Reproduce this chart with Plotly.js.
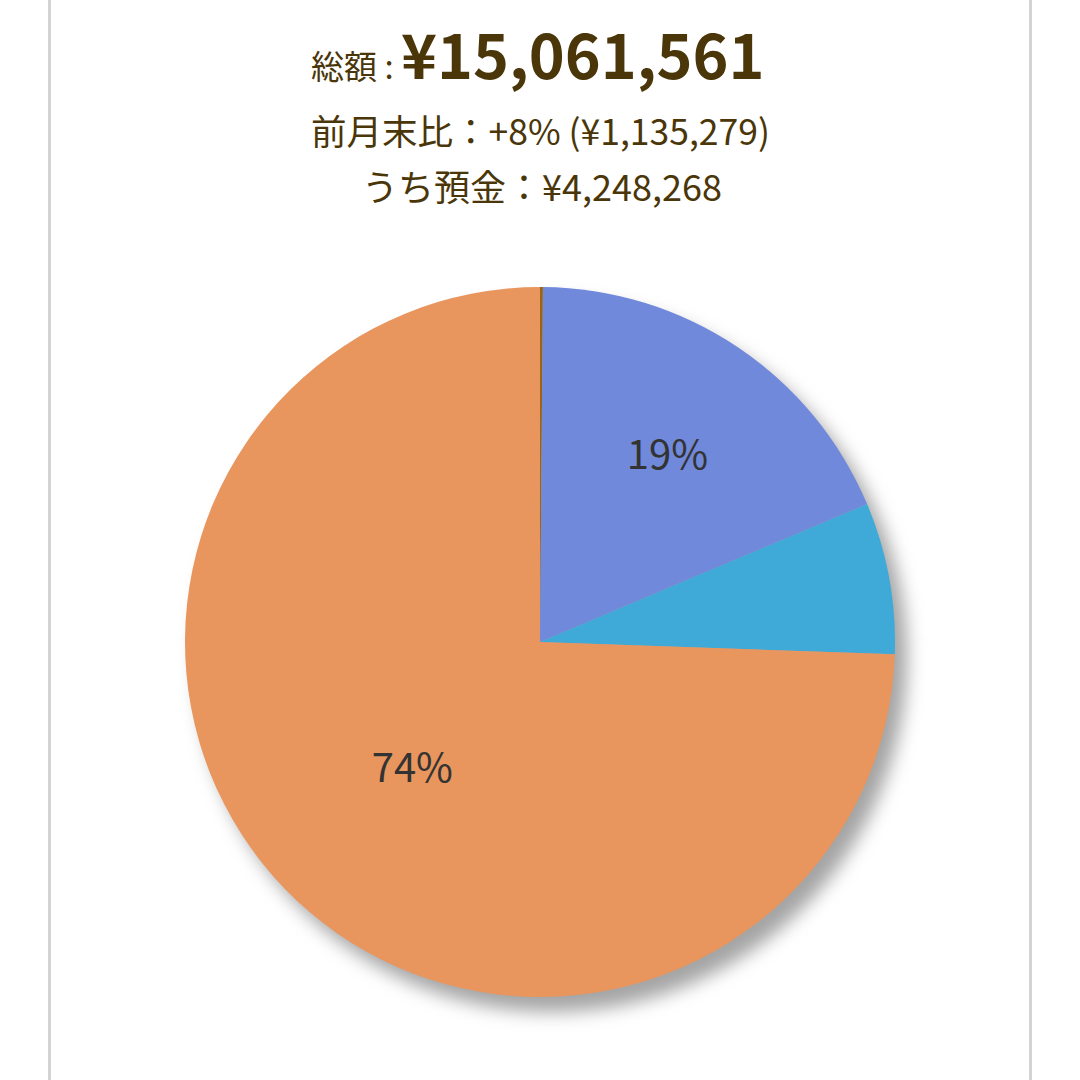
<!DOCTYPE html>
<html>
<head>
<meta charset="utf-8">
<script src="https://cdn.plot.ly/plotly-3.0.1.min.js"></script>
<style>
  html, body { margin: 0; padding: 0; background: #fff; }
  #myDiv { width: 1080px; height: 1080px; }
  .layer-below .shapelayer path { filter: blur(9px); }
</style>
</head>
<body>
<div id="myDiv"></div>
<script>
// asset breakdown (yen)
var labels = ['区分A', '区分B', '区分C', '区分D'];
var values = [20000, 2789000, 1039000, 11213561];
var colors = ['#9a6414', '#7089da', '#3faad8', '#e8955e'];
var shown = ['', '%{percent:.0%}', '', '%{percent:.0%}'];

var total = '¥15,061,561';
var diffLine = '前月末比：+8% (¥1,135,279)';
var depositLine = 'うち預金：¥4,248,268';

var brown = '#4a3608';
var font = '"Noto Sans CJK JP", "Noto Sans", sans-serif';

var W = 1080, H = 1080;
var cx = 540, cy = 642, r = 355;
var dom = {
  x: [(cx - r) / W, (cx + r) / W],
  y: [1 - (cy + r) / H, 1 - (cy - r) / H]
};

var data = [{
  type: 'pie',
  labels: labels,
  values: values,
  sort: false,
  direction: 'clockwise',
  rotation: 0,
  marker: { colors: colors, line: { width: 0 } },
  texttemplate: shown,
  textposition: 'inside',
  insidetextorientation: 'horizontal',
  insidetextfont: { family: font, size: 40, color: '#333333' },
  hoverinfo: 'label+percent',
  domain: dom,
  showlegend: false
}];

var layout = {
  width: W,
  height: H,
  margin: { l: 0, r: 0, t: 0, b: 0 },
  paper_bgcolor: '#ffffff',
  font: { family: font, color: brown },
  showlegend: false,
  shapes: [
    // pie shadow
    { type: 'circle', xref: 'paper', yref: 'paper', layer: 'below',
      x0: (cx - r + 12) / W, x1: (cx + r + 12) / W,
      y0: 1 - (cy + r + 15) / H, y1: 1 - (cy - r + 15) / H,
      fillcolor: 'rgba(125,125,125,0.7)', line: { width: 0 } },
    // page borders
    { type: 'line', xref: 'paper', yref: 'paper', layer: 'above',
      x0: 49.5 / W, x1: 49.5 / W, y0: 0, y1: 1,
      line: { color: '#d3d3d3', width: 3 } },
    { type: 'line', xref: 'paper', yref: 'paper', layer: 'above',
      x0: 1030.5 / W, x1: 1030.5 / W, y0: 0, y1: 1,
      line: { color: '#d3d3d3', width: 3 } }
  ],
  annotations: [
    { xref: 'paper', yref: 'paper', x: 0.498, y: 1 - 52 / H,
      xanchor: 'center', yanchor: 'middle', showarrow: false,
      text: '<span style="font-size:33px">総額 : </span><b>' + total + '</b>',
      font: { family: font, size: 61, color: brown } },
    { xref: 'paper', yref: 'paper', x: 0.5, y: 1 - 129 / H,
      xanchor: 'center', yanchor: 'middle', showarrow: false,
      text: diffLine, font: { family: font, size: 35.5, color: brown } },
    { xref: 'paper', yref: 'paper', x: 0.502, y: 1 - 185 / H,
      xanchor: 'center', yanchor: 'middle', showarrow: false,
      text: depositLine, font: { family: font, size: 36, color: brown } }
  ]
};

Plotly.newPlot('myDiv', data, layout, { displayModeBar: false, staticPlot: true });
</script>
</body>
</html>
